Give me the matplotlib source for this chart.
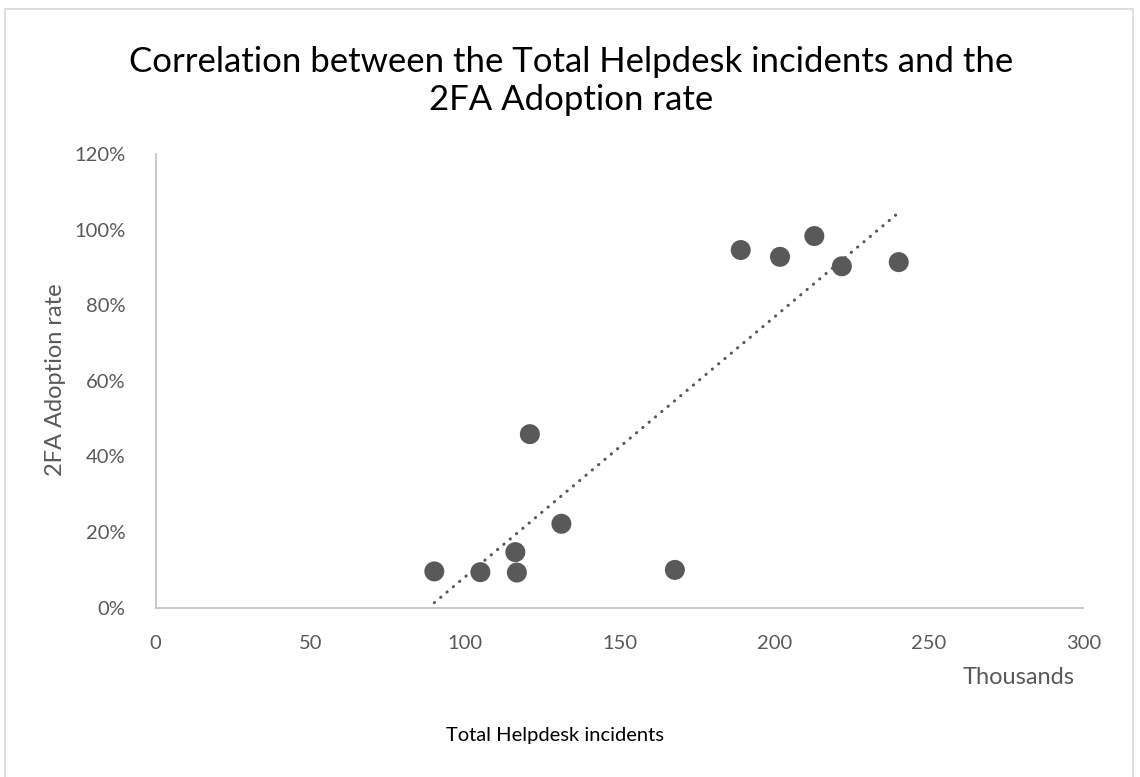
import numpy as np
import matplotlib
matplotlib.use("Agg")
import matplotlib.pyplot as plt
from matplotlib.patches import Rectangle
from matplotlib.ticker import FuncFormatter

# data (incidents in thousands, adoption in %)
incidents = [90.1, 105.0, 116.3, 116.8, 121.0, 131.2, 167.9, 189.2, 201.9, 213.0, 221.9, 240.3]
adoption = [9.6, 9.4, 14.7, 9.3, 45.9, 22.2, 10.0, 94.6, 92.8, 98.3, 90.3, 91.4]
x_ticks = [0, 50, 100, 150, 200, 250, 300]
y_ticks = [0, 20, 40, 60, 80, 100, 120]

plt.rcParams['font.family'] = ['Lato', 'DejaVu Sans']
grey = '#595959'

fig = plt.figure(figsize=(11.4, 7.77), dpi=100)
ax = fig.add_axes([0.1366, 0.2179, 0.8137, 0.5839])

x = np.array(incidents)
y = np.array(adoption)
ax.scatter(x, y, s=20 ** 2 * 0.72 ** 2, color=grey, edgecolors='none', zorder=3)

# linear trendline like Excel's
k, b = np.polyfit(x, y, 1)
tx = np.array([x.min(), x.max()])
ax.plot(tx, k * tx + b, color=grey, lw=2.2, linestyle=(0, (0.1, 2.6)),
        dash_capstyle='round', zorder=2)

ax.set_xlim(0, 300)
ax.set_ylim(0, 120)
ax.set_xticks(x_ticks)
ax.set_yticks(y_ticks)
ax.yaxis.set_major_formatter(FuncFormatter(lambda v, p: f"{v:.0f}%"))
ax.tick_params(length=0, labelsize=14.5, colors=grey)
ax.tick_params(axis='y', pad=22)
ax.tick_params(axis='x', pad=20)
for s in ['top', 'right']:
    ax.spines[s].set_visible(False)
for s in ['left', 'bottom']:
    ax.spines[s].set_color('#bfbfbf')
    ax.spines[s].set_linewidth(1.2)

fig.text(0.5007, 1 - 81 / 777, 'Correlation between the Total Helpdesk incidents and the\n2FA Adoption rate',
         ha='center', va='center', fontsize=25, color='black', linespacing=1.26)
fig.text(1075 / 1140, 1 - 678 / 777, 'Thousands', ha='right', va='center', fontsize=17, color=grey)
fig.text(555 / 1140, 1 - 736 / 777, 'Total Helpdesk incidents', ha='center', va='center',
         fontsize=14.5, color='black')
fig.text(55 / 1140, 1 - 380 / 777, '2FA Adoption rate', ha='center', va='center',
         rotation=90, fontsize=17, color=grey)

# chart frame
fig.patches.append(Rectangle((5 / 1140, -0.01), 1128 / 1140, 1.01 - 9 / 777,
                             transform=fig.transFigure, fill=False,
                             edgecolor='#d9d9d9', lw=1.2))

fig.savefig('out.png', dpi=100)
